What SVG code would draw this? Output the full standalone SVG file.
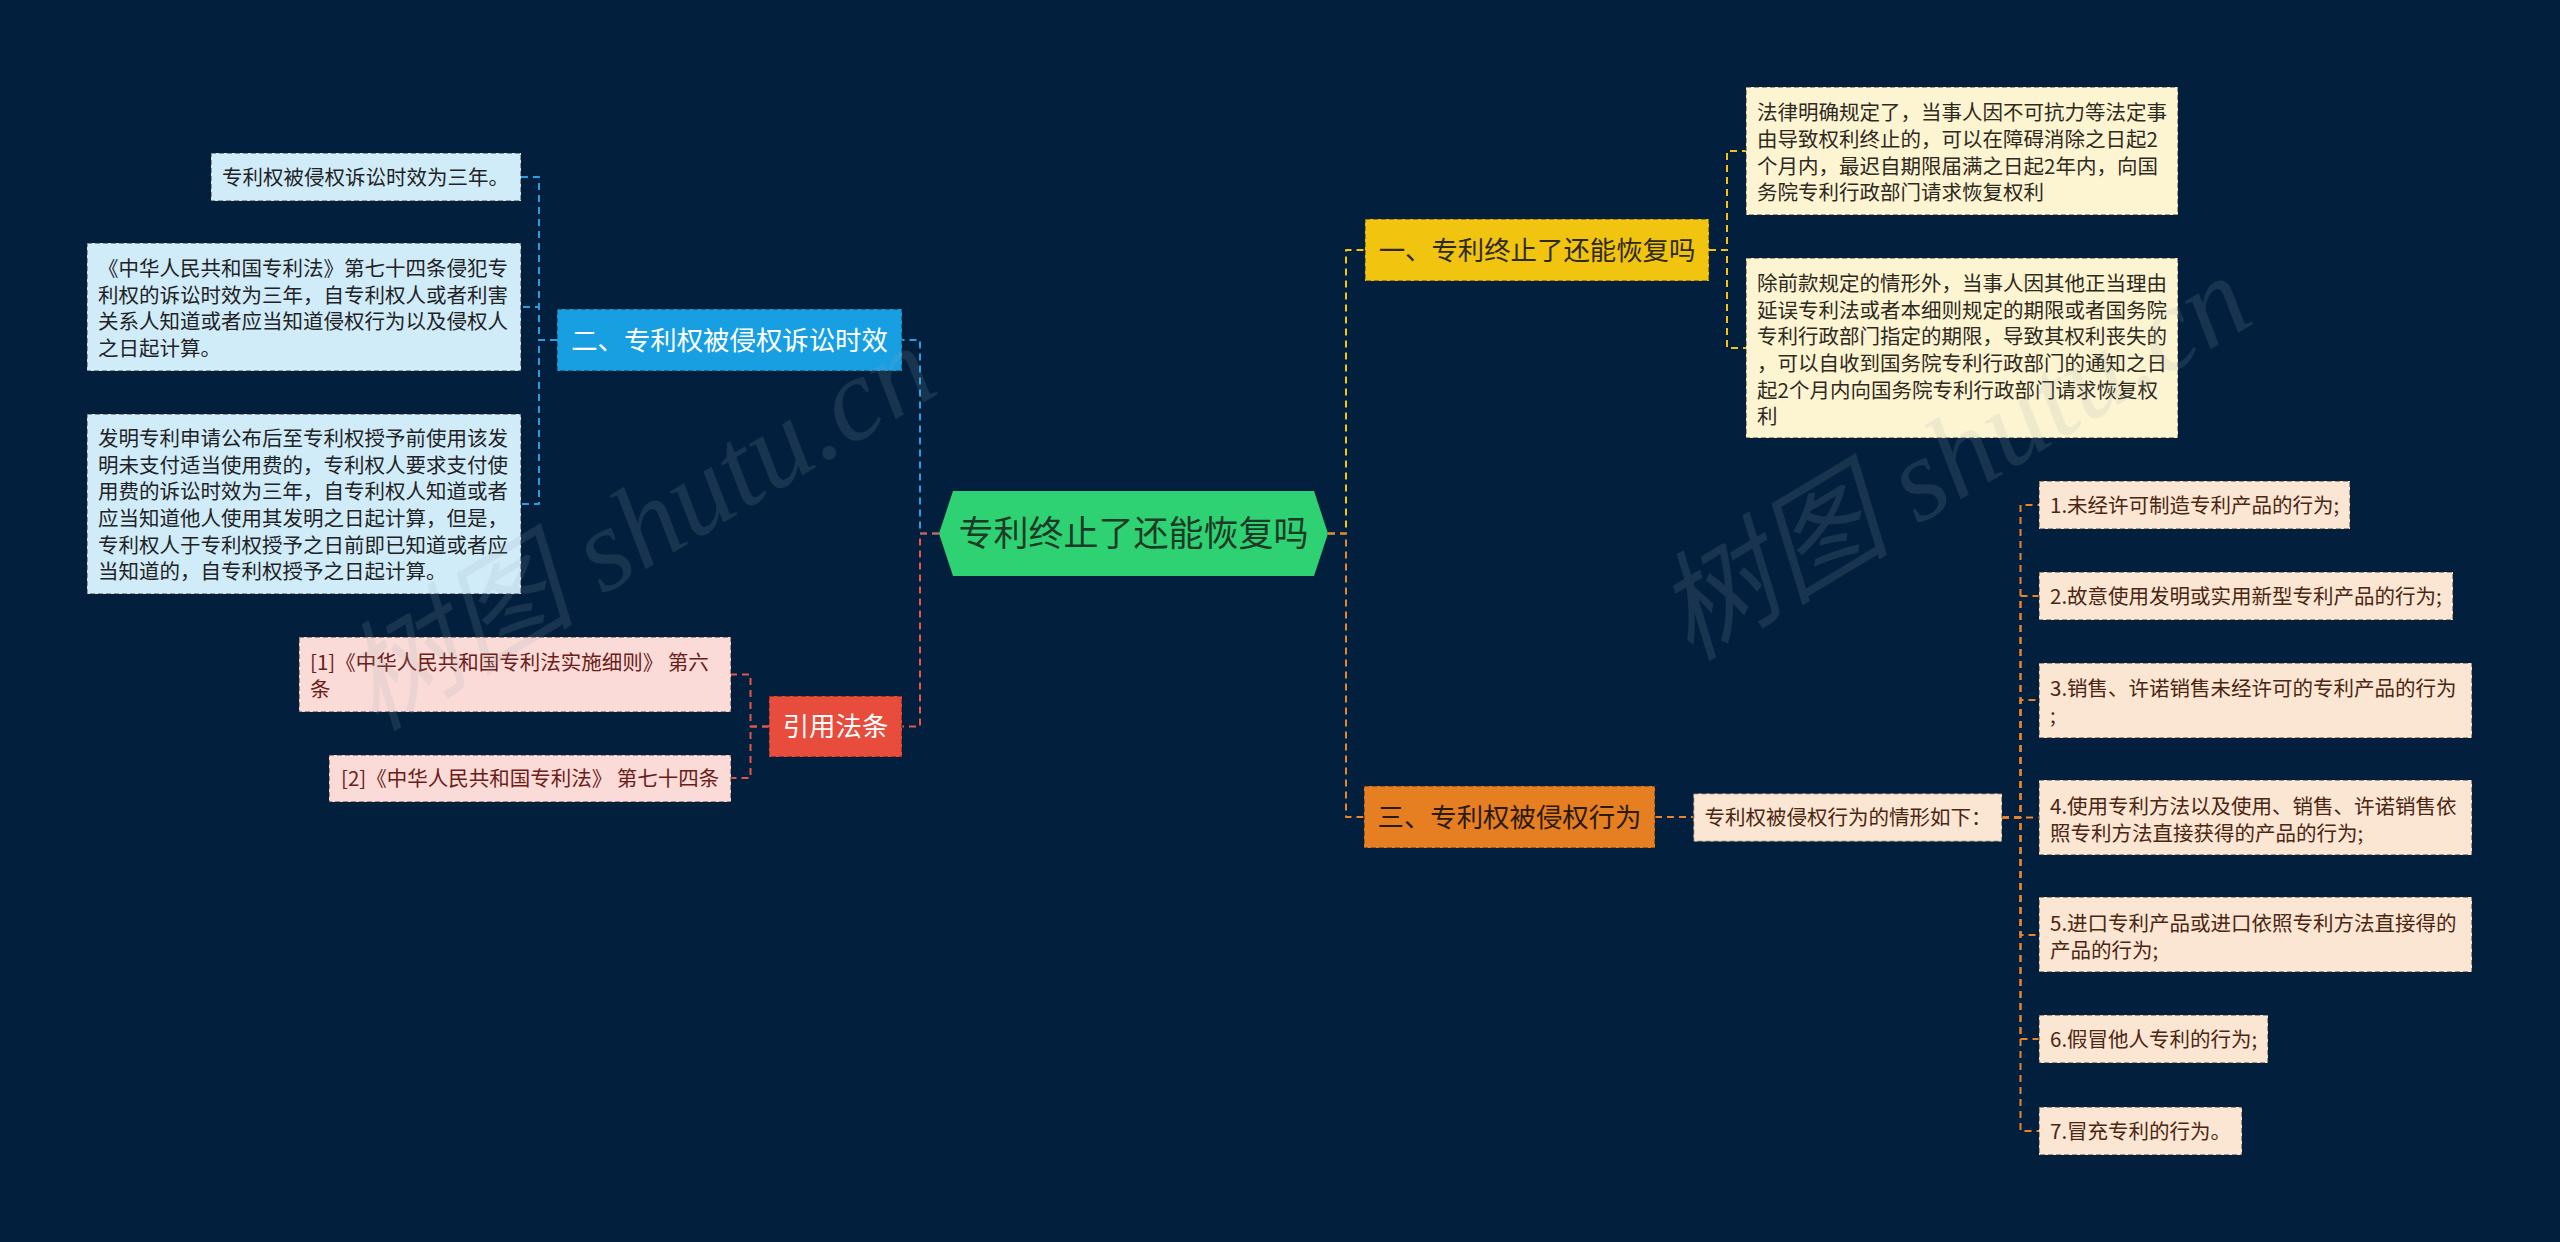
<svg xmlns="http://www.w3.org/2000/svg" width="2560" height="1242" viewBox="0 0 2560 1242">
<defs>
<style>
.t{font-family:"Noto Sans CJK SC","Noto Sans",sans-serif;}
.s{font-size:20.5px;}
.h{font-size:26.4px;}
.box{stroke:rgba(30,30,30,0.55);stroke-width:1.5;stroke-dasharray:5 3;}
.c{fill:none;stroke-width:2;stroke-dasharray:7 5;stroke-linejoin:round;}
.blue{stroke:#2a9ee0;}
.red{stroke:#e2574a;}
.yel{stroke:#f1c40f;}
.org{stroke:#e8842c;}
.wm{font-family:"Liberation Serif","Noto Sans CJK SC",serif;font-style:italic;font-size:118px;fill:#9aa5b0;fill-opacity:0.15;}
</style>
</defs>
<rect width="2560" height="1242" fill="#02203e"/>

<g id="connectors">
  <path class="c blue" d="M939 533.5 H920 V340 H902"/>
  <path class="c blue" d="M557 340 H539 V177 H521"/>
  <path class="c blue" d="M557 340 H539 V307 H521"/>
  <path class="c blue" d="M557 340 H539 V504 H521"/>
  <path class="c red" d="M939 533.5 H920 V726.5 H902"/>
  <path class="c red" d="M769 726.5 H750.5 V674.5 H731"/>
  <path class="c red" d="M769 726.5 H750.5 V778 H731"/>
  <path class="c yel" d="M1328 533.5 H1346 V250 H1365"/>
  <path class="c yel" d="M1709 250 H1727 V151 H1746"/>
  <path class="c yel" d="M1709 250 H1727 V348 H1746"/>
  <path class="c org" d="M1328 533.5 H1346 V817 H1364"/>
  <path class="c org" d="M1655 817 H1693.5"/>
  <path class="c org" d="M2002 817.5 H2020.5 V505 H2039"/>
  <path class="c org" d="M2002 817.5 H2020.5 V596 H2039"/>
  <path class="c org" d="M2002 817.5 H2020.5 V700 H2039"/>
  <path class="c org" d="M2002 817.5 H2039"/>
  <path class="c org" d="M2002 817.5 H2020.5 V935 H2039"/>
  <path class="c org" d="M2002 817.5 H2020.5 V1039 H2039"/>
  <path class="c org" d="M2002 817.5 H2020.5 V1131 H2039"/>
</g>

<g id="root">
  <polygon points="939,533.5 953,491 1314,491 1328,533.5 1314,576 953,576" fill="#2fd272"/>
  <text class="t" x="1133.5" y="546" font-size="35" fill="#1d3a27" text-anchor="middle">专利终止了还能恢复吗</text>
</g>

<g id="n-blue">
  <rect class="box" x="557" y="309" width="345" height="62" fill="#189fe2"/>
  <text class="t h" x="729.5" y="350" fill="#ffffff" text-anchor="middle">二、专利权被侵权诉讼时效</text>
</g>
<g id="n-blue-1">
  <rect class="box" x="211" y="153" width="310" height="48" fill="#d1ecf9"/>
  <text class="t s" x="222" y="185" fill="#1f2326">专利权被侵权诉讼时效为三年。</text>
</g>
<g id="n-blue-2">
  <rect class="box" x="87" y="243" width="434" height="128" fill="#d1ecf9"/>
  <text class="t s" fill="#1f2326"><tspan x="98" y="275.8">《中华人民共和国专利法》第七十四条侵犯专</tspan><tspan x="98" y="302.5">利权的诉讼时效为三年，自专利权人或者利害</tspan><tspan x="98" y="329.2">关系人知道或者应当知道侵权行为以及侵权人</tspan><tspan x="98" y="355.9">之日起计算。</tspan></text>
</g>
<g id="n-blue-3">
  <rect class="box" x="87" y="414" width="434" height="180" fill="#d1ecf9"/>
  <text class="t s" fill="#1f2326"><tspan x="98" y="445.8">发明专利申请公布后至专利权授予前使用该发</tspan><tspan x="98" y="472.5">明未支付适当使用费的，专利权人要求支付使</tspan><tspan x="98" y="499.2">用费的诉讼时效为三年，自专利权人知道或者</tspan><tspan x="98" y="525.9">应当知道他人使用其发明之日起计算，但是，</tspan><tspan x="98" y="552.6">专利权人于专利权授予之日前即已知道或者应</tspan><tspan x="98" y="579.3">当知道的，自专利权授予之日起计算。</tspan></text>
</g>

<g id="n-red">
  <rect class="box" x="769" y="696" width="133" height="61" fill="#e74c3c"/>
  <text class="t h" x="835.5" y="736" fill="#ffffff" text-anchor="middle">引用法条</text>
</g>
<g id="n-red-1">
  <rect class="box" x="299" y="637" width="432" height="75" fill="#fadbd8"/>
  <text class="t s" fill="#6a2018"><tspan x="310" y="670.3">[1]《中华人民共和国专利法实施细则》 第六</tspan><tspan x="310" y="697">条</tspan></text>
</g>
<g id="n-red-2">
  <rect class="box" x="329" y="755" width="402" height="47" fill="#fadbd8"/>
  <text class="t s" x="341" y="786" fill="#6a2018">[2]《中华人民共和国专利法》 第七十四条</text>
</g>

<g id="n-yellow">
  <rect class="box" x="1365" y="219" width="344" height="62" fill="#f1c40f"/>
  <text class="t h" x="1537" y="260" fill="#2e2a1e" text-anchor="middle">一、专利终止了还能恢复吗</text>
</g>
<g id="n-yellow-1">
  <rect class="box" x="1746" y="87" width="432" height="128" fill="#fdf4d2"/>
  <text class="t s" fill="#2e2a1e"><tspan x="1757" y="120.3">法律明确规定了，当事人因不可抗力等法定事</tspan><tspan x="1757" y="147">由导致权利终止的，可以在障碍消除之日起2</tspan><tspan x="1757" y="173.7">个月内，最迟自期限届满之日起2年内，向国</tspan><tspan x="1757" y="200.4">务院专利行政部门请求恢复权利</tspan></text>
</g>
<g id="n-yellow-2">
  <rect class="box" x="1746" y="258" width="432" height="180" fill="#fdf4d2"/>
  <text class="t s" fill="#2e2a1e"><tspan x="1757" y="290.8">除前款规定的情形外，当事人因其他正当理由</tspan><tspan x="1757" y="317.5">延误专利法或者本细则规定的期限或者国务院</tspan><tspan x="1757" y="344.2">专利行政部门指定的期限，导致其权利丧失的</tspan><tspan x="1757" y="370.9">，可以自收到国务院专利行政部门的通知之日</tspan><tspan x="1757" y="397.6">起2个月内向国务院专利行政部门请求恢复权</tspan><tspan x="1757" y="424.3">利</tspan></text>
</g>

<g id="n-orange">
  <rect class="box" x="1364" y="786" width="291" height="62" fill="#e67e22"/>
  <text class="t h" x="1509.5" y="827" fill="#2a1a0c" text-anchor="middle">三、专利权被侵权行为</text>
</g>
<g id="n-orange-mid">
  <rect class="box" x="1693.5" y="793.5" width="308.5" height="48" fill="#fbe5d3"/>
  <text class="t s" x="1704.5" y="825.3" fill="#4a2712">专利权被侵权行为的情形如下：</text>
</g>
<g id="n-item-1">
  <rect class="box" x="2039" y="481" width="311" height="48" fill="#fbe5d3"/>
  <text class="t s" x="2050" y="512.8" fill="#4a2712">1.未经许可制造专利产品的行为;</text>
</g>
<g id="n-item-2">
  <rect class="box" x="2039" y="572" width="414" height="48" fill="#fbe5d3"/>
  <text class="t s" x="2050" y="603.8" fill="#4a2712">2.故意使用发明或实用新型专利产品的行为;</text>
</g>
<g id="n-item-3">
  <rect class="box" x="2039" y="663" width="433" height="75" fill="#fbe5d3"/>
  <text class="t s" fill="#4a2712"><tspan x="2050" y="696.3">3.销售、许诺销售未经许可的专利产品的行为</tspan><tspan x="2050" y="723">;</tspan></text>
</g>
<g id="n-item-4">
  <rect class="box" x="2039" y="780" width="433" height="75" fill="#fbe5d3"/>
  <text class="t s" fill="#4a2712"><tspan x="2050" y="813.8">4.使用专利方法以及使用、销售、许诺销售依</tspan><tspan x="2050" y="840.5">照专利方法直接获得的产品的行为;</tspan></text>
</g>
<g id="n-item-5">
  <rect class="box" x="2039" y="897" width="433" height="75" fill="#fbe5d3"/>
  <text class="t s" fill="#4a2712"><tspan x="2050" y="930.8">5.进口专利产品或进口依照专利方法直接得的</tspan><tspan x="2050" y="957.5">产品的行为;</tspan></text>
</g>
<g id="n-item-6">
  <rect class="box" x="2039" y="1015" width="229" height="48" fill="#fbe5d3"/>
  <text class="t s" x="2050" y="1046.8" fill="#4a2712">6.假冒他人专利的行为;</text>
</g>
<g id="n-item-7">
  <rect class="box" x="2039" y="1107" width="203" height="48" fill="#fbe5d3"/>
  <text class="t s" x="2050" y="1138.8" fill="#4a2712">7.冒充专利的行为。</text>
</g>

<g id="watermark">
  <text class="wm" transform="translate(375,732) rotate(-31)">树图 shutu.cn</text>
  <text class="wm" transform="translate(1690,662) rotate(-31)">树图 shutu.cn</text>
</g>
</svg>
